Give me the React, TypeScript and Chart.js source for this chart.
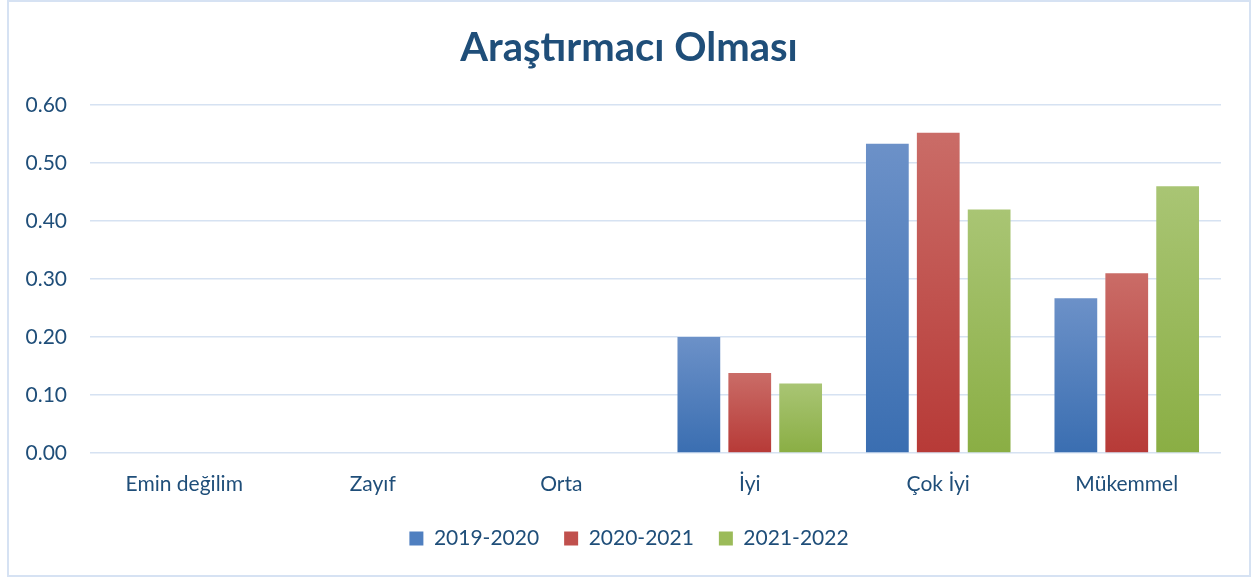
import React, { useEffect, useRef } from "react";
import { Chart, registerables } from "chart.js";

Chart.register(...registerables);

const TITLE = "Araştırmacı Olması";
const categories = ["Emin değilim", "Zayıf", "Orta", "İyi", "Çok İyi", "Mükemmel"];
const seriesNames = ["2019-2020", "2020-2021", "2021-2022"];
const values2019 = [0, 0, 0, 0.2, 0.533, 0.267];
const values2020 = [0, 0, 0, 0.138, 0.552, 0.31];
const values2021 = [0, 0, 0, 0.12, 0.42, 0.46];
const yTicks = [0, 0.1, 0.2, 0.3, 0.4, 0.5, 0.6];

const palette = [
  { top: "#6C91C8", bottom: "#3A6EB1", mid: "#4F7FC0" },
  { top: "#CA6C67", bottom: "#B73A37", mid: "#C0504D" },
  { top: "#A9C574", bottom: "#8AAE44", mid: "#9BBB59" },
];

const TEXT = "#1F4E79";
const GRID = "#D6E2F2";
const FONT = "Lato, 'Open Sans', sans-serif";

const makeGrad = (top: string, bottom: string) => (ctx: any) => {
  const chart = ctx.chart;
  const area = chart.chartArea;
  const ys = chart.scales && chart.scales.y;
  if (!area || !ys || ctx.type !== "data") return bottom;
  const v = ctx.raw as number;
  const y0 = ys.getPixelForValue(0);
  const y1 = ys.getPixelForValue(v);
  if (!isFinite(y0) || !isFinite(y1) || Math.abs(y0 - y1) < 1) return bottom;
  const g = chart.ctx.createLinearGradient(0, y1, 0, y0);
  g.addColorStop(0, top);
  g.addColorStop(1, bottom);
  return g;
};

export default function App() {
  const ref = useRef<HTMLCanvasElement | null>(null);

  useEffect(() => {
    if (!ref.current) return;
    const all = [values2019, values2020, values2021];
    const chart = new Chart(ref.current, {
      type: "bar",
      data: {
        labels: categories,
        datasets: all.map((vals, i) => ({
          label: seriesNames[i],
          data: vals,
          backgroundColor: makeGrad(palette[i].top, palette[i].bottom),
          borderWidth: 0,
          categoryPercentage: 0.81,
          barPercentage: 0.84,
        })),
      },
      options: {
        responsive: false,
        animation: false,
        devicePixelRatio: 1,
        layout: { padding: { left: 0, right: 0, top: 0, bottom: 16 } },
        plugins: {
          tooltip: { enabled: false },
          title: {
            display: true,
            text: TITLE,
            color: TEXT,
            font: { family: FONT, size: 40, weight: "bold" },
            padding: { top: 22, bottom: 33 },
          },
          legend: {
            position: "bottom",
            labels: {
              color: TEXT,
              font: { family: FONT, size: 21 },
              boxWidth: 14,
              boxHeight: 14,
              padding: 25,
              generateLabels: (c: any) =>
                c.data.datasets.map((d: any, i: number) => ({
                  text: d.label,
                  fillStyle: palette[i].mid,
                  strokeStyle: palette[i].mid,
                  lineWidth: 0,
                  hidden: false,
                  datasetIndex: i,
                  fontColor: TEXT,
                })),
            },
          },
        },
        scales: {
          x: {
            grid: { display: false, drawTicks: false },
            border: { display: false },
            ticks: {
              color: TEXT,
              font: { family: FONT, size: 21 },
              padding: 19,
              maxRotation: 0,
              autoSkip: false,
            },
            afterFit: (s: any) => {
              s.height = 50;
            },
          },
          y: {
            min: 0,
            max: 0.6,
            afterBuildTicks: (s: any) => {
              s.ticks = yTicks.map((v) => ({ value: v }));
            },
            grid: { color: GRID, lineWidth: 1.5, drawTicks: false },
            border: { display: false },
            ticks: {
              color: TEXT,
              font: { family: FONT, size: 21 },
              padding: 23,
              callback: (v: any) => Number(v).toFixed(2),
            },
            afterFit: (s: any) => {
              s.width = 81;
            },
          },
          yRight: {
            type: "linear",
            position: "right",
            min: 0,
            max: 0.6,
            grid: { display: false, drawTicks: false },
            border: { display: false },
            ticks: { display: false },
            afterFit: (s: any) => {
              s.width = 28;
            },
          },
        },
      },
    });
    return () => chart.destroy();
  }, []);

  return (
    <div
      style={{
        position: "fixed",
        left: 7,
        top: 0,
        width: 1244,
        height: 577,
        boxSizing: "border-box",
        border: "2px solid #D6E2F3",
        background: "#fff",
      }}
    >
      <canvas ref={ref} width={1240} height={573} style={{ display: "block" }} />
    </div>
  );
}
